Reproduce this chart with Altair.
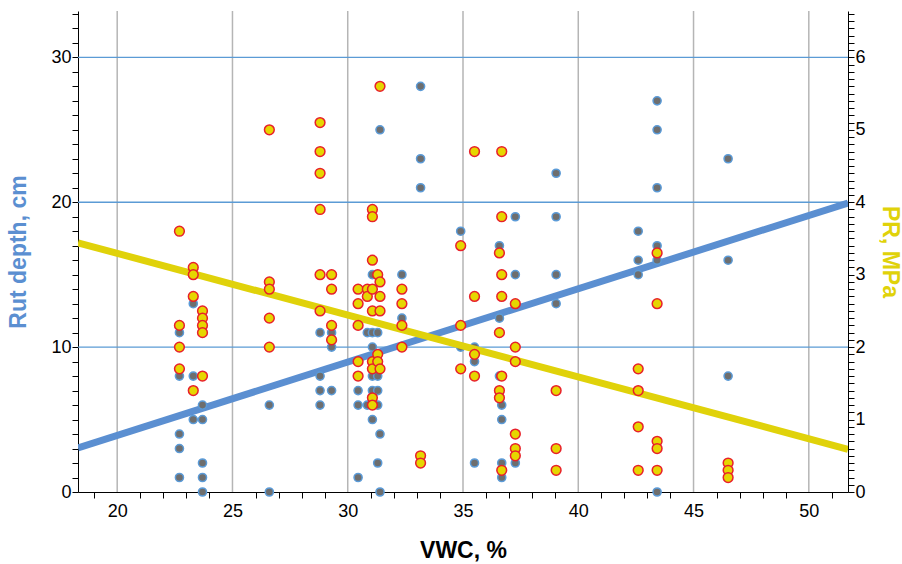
import altair as alt
import pandas as pd

# Rut depth (cm) against volumetric water content (%)
rut_vwc = ([22.7] * 5 + [23.3] * 3 + [23.7] * 5 + [26.6] * 2 + [28.8] * 4 + [29.3] * 3
           + [30.45] * 3 + [30.85] * 2 + [31.07] * 6 + [31.3] * 5 + [31.4] * 3 + [32.35] * 2
           + [33.16] * 3 + [34.9] * 2 + [35.5] * 3 + [36.58] * 3 + [36.68] * 4 + [37.27] * 3
           + [39.04] * 4 + [42.6] * 3 + [43.42] * 6 + [46.5] * 3)
rut_cm = [11, 8, 4, 3, 1,
          13, 8, 5,
          6, 5, 2, 1, 0,
          6, 0,
          11, 8, 7, 6,
          11, 10, 7,
          7, 6, 1,
          11, 6,
          15, 11, 10, 8, 7, 5,
          11, 8, 7, 6, 2,
          25, 4, 0,
          15, 12,
          28, 23, 21,
          18, 10,
          10, 9, 2,
          17, 12, 8,
          6, 5, 2, 1,
          19, 15, 2,
          22, 19, 15, 13,
          18, 16, 15,
          27, 25, 21, 17, 16, 0,
          23, 16, 8]

# Penetration resistance (MPa) against volumetric water content (%)
pr_vwc = ([22.7] * 4 + [23.3] * 4 + [23.7] * 5 + [26.6] * 5 + [28.8] * 6 + [29.3] * 4
          + [30.45] * 5 + [30.85] * 2 + [31.07] * 9 + [31.3] * 3 + [31.4] * 5 + [32.35] * 4
          + [33.16] * 2 + [34.9] * 3 + [35.5] * 4 + [36.58] * 4 + [36.68] * 6 + [37.27] * 6
          + [39.04] * 3 + [42.6] * 4 + [43.42] * 5 + [46.5] * 3)
pr_mpa = [3.6, 2.3, 2.0, 1.7,
          3.1, 3.0, 2.7, 1.4,
          2.5, 2.4, 2.3, 2.2, 1.6,
          5.0, 2.9, 2.8, 2.4, 2.0,
          5.1, 4.7, 4.4, 3.9, 3.0, 2.5,
          3.0, 2.8, 2.3, 2.1,
          2.8, 2.6, 2.3, 1.8, 1.6,
          2.8, 2.7,
          3.9, 3.8, 3.2, 2.8, 2.5, 1.8, 1.7, 1.3, 1.2,
          3.0, 1.9, 1.8,
          5.6, 2.9, 2.7, 2.5, 1.7,
          2.8, 2.6, 2.3, 2.0,
          0.5, 0.4,
          3.4, 2.3, 1.7,
          4.7, 2.7, 1.9, 1.6,
          3.3, 2.2, 1.4, 1.3,
          4.7, 3.8, 3.0, 2.7, 1.6, 0.3,
          2.6, 2.0, 1.8, 0.8, 0.6, 0.5,
          1.4, 0.6, 0.3,
          1.7, 1.4, 0.9, 0.3,
          3.3, 2.6, 0.7, 0.6, 0.3,
          0.4, 0.3, 0.2]

# Linear trends across the plotted VWC range
trend_vwc = [18.3, 51.7]
trend_rut = [3.05, 19.95]
trend_pr = [3.44, 0.59]

# Grid positions
grid_vwc = [20, 25, 30, 35, 40, 45, 50]
grid_rut = [10, 20, 30]

X_DOMAIN = [18.3, 51.7]
RUT_DOMAIN = [0, 33.2]
PR_DOMAIN = [0, 6.64]

BLUE = "#5b8fd1"
YELLOW = "#e0d20a"
FONT = "Liberation Sans"

rut_df = pd.DataFrame({"vwc": rut_vwc, "rut": rut_cm})
pr_df = pd.DataFrame({"vwc": pr_vwc, "pr": pr_mpa})
trend_df = pd.DataFrame({"vwc": trend_vwc, "rut": trend_rut, "pr": trend_pr})
vgrid_df = pd.DataFrame({"vwc": grid_vwc})
hgrid_df = pd.DataFrame({"rut": grid_rut})

x_scale = alt.Scale(domain=X_DOMAIN, nice=False, zero=False)
rut_scale = alt.Scale(domain=RUT_DOMAIN, nice=False)
pr_scale = alt.Scale(domain=PR_DOMAIN, nice=False)

# minor ticks between the labelled values (none at the labelled ones on x)
x_tick_values = [v for v in range(19, 52) if v % 5 != 0]
x_label_values = [20, 25, 30, 35, 40, 45, 50]

axis_style = dict(
    domainColor="black",
    domainWidth=1,
    tickColor="black",
    tickWidth=1,
    tickSize=6,
    labelColor="black",
    labelFont=FONT,
    labelFontSize=18,
    titleFont=FONT,
    titleFontSize=23,
    titleFontWeight="bold",
    grid=False,
)

x_axis = alt.Axis(
    title="VWC, %",
    values=x_tick_values + x_label_values,
    labelExpr="datum.value % 5 === 0 ? datum.label : ''",
    tickOpacity={"condition": {"test": "datum.value % 5 === 0", "value": 0}, "value": 1},
    labelPadding=4,
    titlePadding=19,
    titleColor="black",
    **axis_style,
)
rut_axis = alt.Axis(
    title="Rut depth, cm",
    orient="left",
    values=list(range(0, 34)),
    labelExpr="datum.value % 10 === 0 ? datum.label : ''",
    labelPadding=1,
    titlePadding=20,
    titleColor=BLUE,
    **axis_style,
)
pr_axis = alt.Axis(
    title="PR, MPa",
    orient="right",
    values=[round(i * 0.1, 1) for i in range(0, 67)],
    labelExpr="abs(datum.value - round(datum.value)) < 0.001 ? format(datum.value, 'd') : ''",
    labelPadding=1,
    titlePadding=12,
    titleColor=YELLOW,
    **axis_style,
)

X = alt.X("vwc:Q", scale=x_scale, axis=x_axis)
Y_RUT = alt.Y("rut:Q", scale=rut_scale, axis=rut_axis)
Y_PR = alt.Y("pr:Q", scale=pr_scale, axis=pr_axis)

vgrid = alt.Chart(vgrid_df).mark_rule(color="#b5b5b5", strokeWidth=1.5).encode(x=X)
hgrid = alt.Chart(hgrid_df).mark_rule(color="#5b9bd5", strokeWidth=1.3).encode(y=Y_RUT)
rut_line = alt.Chart(trend_df).mark_line(color=BLUE, strokeWidth=7, clip=True).encode(
    x=X, y=Y_RUT
)
rut_pts = alt.Chart(rut_df).mark_point(
    shape="circle", filled=True, size=66, fill="#6e6e6e", stroke="#5b9bd8",
    strokeWidth=1.5, opacity=1,
).encode(x=X, y=Y_RUT)
pr_line = alt.Chart(trend_df).mark_line(color=YELLOW, strokeWidth=7, clip=True).encode(
    x=X, y=Y_PR
)
pr_pts = alt.Chart(pr_df).mark_point(
    shape="circle", filled=True, size=95, fill="#e6d600", stroke="#e8202a",
    strokeWidth=1.5, opacity=1,
).encode(x=X, y=Y_PR)

left = alt.layer(vgrid, hgrid, rut_line, rut_pts)
right = alt.layer(pr_line, pr_pts)

chart = alt.layer(left, right).resolve_scale(y="independent").properties(
    width=770,
    height=481,
    background="white",
    autosize=alt.AutoSizeParams(type="none"),
    padding={"left": 78, "top": 11, "right": 54, "bottom": 72},
).configure_view(strokeWidth=0)

chart.save("out.html", embed_options={"renderer": "svg", "actions": False})
